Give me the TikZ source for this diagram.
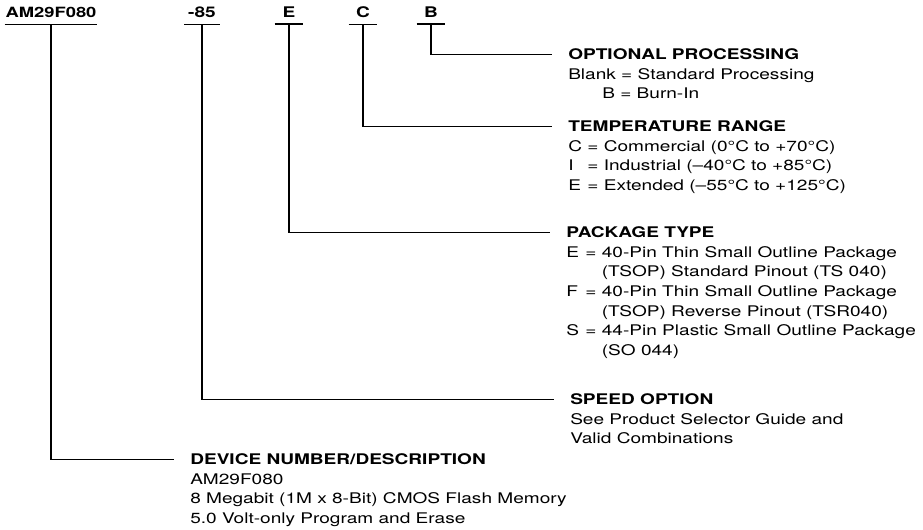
\documentclass[tikz,border=0pt]{standalone}
\usepackage{fontspec}
\setmainfont[FakeStretch=1.3]{TeX Gyre Heros}
\usepackage{tikz}
\usetikzlibrary{positioning}

\newcommand{\key}[1]{\makebox[0.94em][l]{#1}}
\newcommand{\cont}{\hphantom{\key{E} = }}

\begin{document}
\begin{tikzpicture}[
  x=0.75pt, y=-0.75pt,
  font=\fontsize{11}{14.8}\selectfont,
  code/.style={font=\fontsize{11}{14.8}\selectfont\bfseries, anchor=base, inner xsep=0.5pt, inner ysep=4.5pt, minimum width=21pt},
  head/.style={font=\fontsize{11}{14.8}\selectfont\bfseries, anchor=base west, inner sep=0pt, text height=0.72em, text depth=0pt},
  body/.style={anchor=base west, inner sep=0pt},
  uline/.style={line width=1.2pt},
  lead/.style={line width=1.3pt, shorten >=12pt}
]
\useasboundingbox (0,0) rectangle (923,530);
\node[code, font=\fontsize{10.6}{14.8}\selectfont\bfseries] (am) at (51,18) {AM29F080};
\node[code, minimum width=26pt] (sp) at (202,18) {-85};
\node[code] (pk) at (289,18) {E};
\node[code] (tp) at (363,18) {C};
\node[code] (op) at (431,18) {B};
\foreach \n in {am,sp,pk,tp,op}
  \draw[uline] (\n.south west) -- (\n.south east);
\node[head] (optH) at (568,59.3) {OPTIONAL PROCESSING};
\node[body] (optB) at ([yshift=-14.8pt]optH.base west) {\begin{tabular}[t]{@{}l@{}}
  Blank = Standard Processing\\
  \hspace*{25.5pt}B = Burn-In
\end{tabular}};
\node[head] (tmpH) at (568,131.3) {TEMPERATURE RANGE};
\node[body] (tmpB) at ([yshift=-14.8pt]tmpH.base west) {\begin{tabular}[t]{@{}l@{}}
  \key{C} = Commercial (0°C to +70°C)\\
  \key{I} = Industrial (–40°C to +85°C)\\
  \key{E} = Extended (–55°C to +125°C)
\end{tabular}};
\node[head] (pkgH) at (566,237.3) {PACKAGE TYPE};
\node[body] (pkgB) at ([yshift=-14.8pt]pkgH.base west) {\begin{tabular}[t]{@{}l@{}}
  \key{E} = 40-Pin Thin Small Outline Package\\
  \cont(TSOP) Standard Pinout (TS 040)\\
  \key{F} = 40-Pin Thin Small Outline Package\\
  \cont(TSOP) Reverse Pinout (TSR040)\\
  \key{S} = 44-Pin Plastic Small Outline Package\\
  \cont(SO 044)
\end{tabular}};
\node[head] (spdH) at (570,404.3) {SPEED OPTION};
\node[body] (spdB) at ([yshift=-14.8pt]spdH.base west) {\begin{tabular}[t]{@{}l@{}}
  See Product Selector Guide and\\
  Valid Combinations
\end{tabular}};
\node[head] (devH) at (190,464.3) {DEVICE NUMBER/DESCRIPTION};
\node[body] (devB) at ([yshift=-14.8pt]devH.base west) {\begin{tabular}[t]{@{}l@{}}
  AM29F080\\
  8 Megabit (1M x 8-Bit) CMOS Flash Memory\\
  5.0 Volt-only Program and Erase
\end{tabular}};
\draw[lead] (op.south) |- (optH.west);
\draw[lead] (tp.south) |- (tmpH.west);
\draw[lead] (pk.south) |- (pkgH.west);
\draw[lead] (sp.south) |- (spdH.west);
\draw[lead] (am.south) |- (devH.west);
\end{tikzpicture}
\end{document}
